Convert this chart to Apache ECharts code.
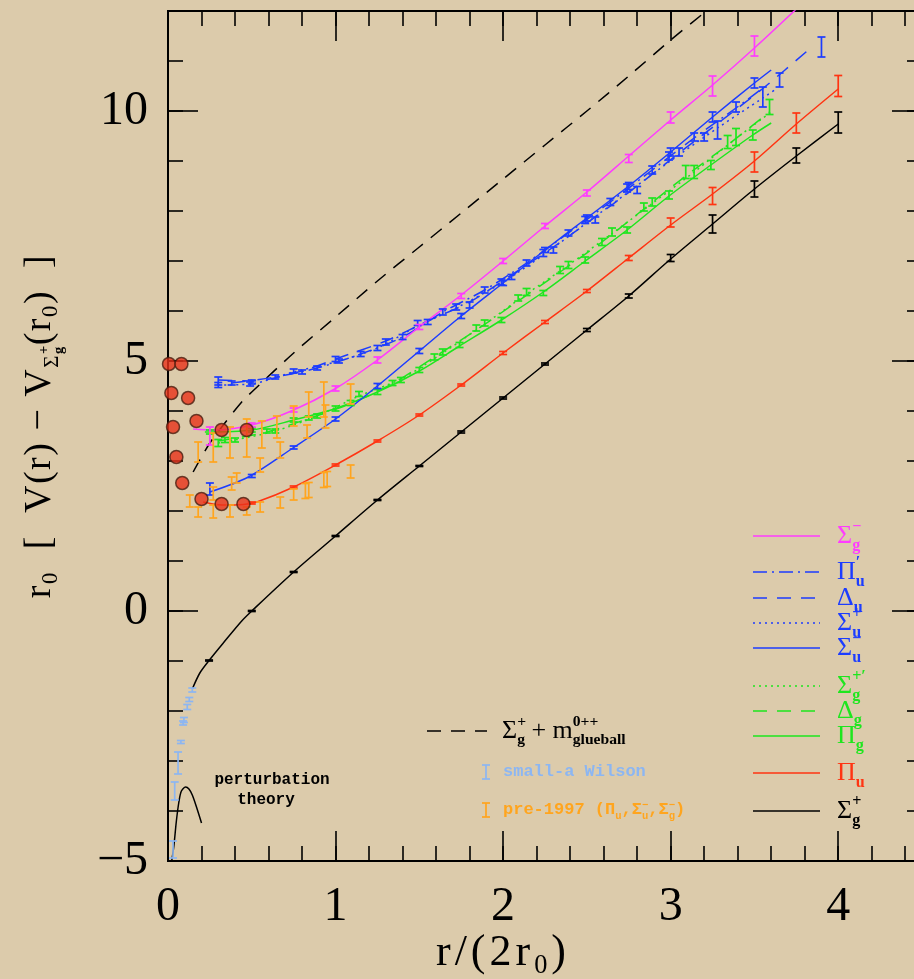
<!DOCTYPE html>
<html>
<head>
<meta charset="utf-8">
<script src="https://cdn.jsdelivr.net/npm/echarts@6/dist/echarts.min.js"></script>
<style>
  html, body { margin: 0; padding: 0; background: #dccbab; overflow: hidden; }
  /* the frame's right edge sits just past the visible window */
  #chart { width: 930px; height: 979px; }
</style>
</head>
<body>
<div id="chart"></div>
<script>
// ---------------- tick labels ----------------
const xTickLabels = ['0', '1', '2', '3', '4'];
const yTickLabels = ['\u22125', '0', '5', '10'];

// ---------------- Σg+ ground state (black) ----------------
const sigmaGPlus = [[0.145,-1.56],[0.19,-1.24],[0.245,-0.99],[0.33,-0.64],[0.44,-0.2],[0.5,0.0],[0.75,0.78],[1.0,1.5],[1.25,2.22],[1.5,2.9],[1.75,3.58],[2.0,4.26],[2.25,4.94],[2.5,5.62],[2.75,6.3],[3.0,7.04],[3.25,7.74],[3.5,8.44],[3.75,9.1],[4.0,9.74]];
const sigmaGPlusErr = [[0.245,-0.99,0.01],[0.5,0.0,0.01],[0.75,0.78,0.01],[1.0,1.5,0.01],[1.25,2.22,0.01],[1.5,2.9,0.01],[1.75,3.58,0.02],[2.0,4.26,0.02],[2.25,4.94,0.02],[2.5,5.62,0.03],[2.75,6.3,0.04],[3.0,7.06,0.07],[3.25,7.74,0.18],[3.5,8.44,0.16],[3.75,9.11,0.15],[4.0,9.77,0.21]];

// ---------------- Πu (red) ----------------
const piU = [[0.21,2.18],[0.32,2.12],[0.45,2.13],[0.53,2.18],[0.75,2.48],[1.0,2.92],[1.25,3.4],[1.5,3.92],[1.75,4.52],[2.0,5.16],[2.25,5.78],[2.5,6.4],[2.75,7.06],[3.0,7.72],[3.25,8.34],[3.5,9.0],[3.75,9.74],[4.0,10.44]];
const piUErr = [[0.5,2.16,0.02],[0.75,2.48,0.02],[1.0,2.92,0.02],[1.25,3.4,0.02],[1.5,3.92,0.02],[1.75,4.52,0.02],[2.0,5.16,0.03],[2.25,5.78,0.03],[2.5,6.4,0.03],[2.75,7.06,0.05],[3.0,7.77,0.09],[3.25,8.3,0.17],[3.5,8.98,0.2],[3.75,9.76,0.2],[4.0,10.5,0.21]];

// ---------------- Σg- (magenta) ----------------
const sigmaGMinus = [[0.15,3.64],[0.27,3.62],[0.5,3.72],[0.75,4.02],[1.0,4.45],[1.25,5.02],[1.5,5.68],[1.75,6.32],[2.0,7.0],[2.25,7.7],[2.5,8.38],[2.75,9.1],[3.0,9.82],[3.25,10.52],[3.5,11.26],[3.75,12.04]];
const sigmaGMinusErr = [[0.25,3.5,0.18],[0.5,3.72,0.04],[0.75,4.02,0.04],[1.0,4.45,0.05],[1.25,5.02,0.06],[1.5,5.68,0.05],[1.75,6.3,0.05],[2.0,7.0,0.05],[2.25,7.7,0.05],[2.5,8.36,0.06],[2.75,9.05,0.08],[3.0,9.87,0.11],[3.25,10.5,0.2],[3.5,11.3,0.2]];

// ---------------- blue u-states ----------------
const sigmaUMinus = [[0.25,2.38],[0.48,2.68],[0.75,3.27],[1.0,3.84],[1.25,4.5],[1.5,5.2],[1.75,5.9],[2.0,6.56],[2.25,7.22],[2.5,7.86],[2.75,8.5],[3.0,9.18],[3.25,9.88],[3.5,10.56],[3.6,10.82]];
const sigmaUMinusErr = [[0.25,2.44,0.12],[0.5,2.7,0.03],[0.75,3.27,0.03],[1.0,3.84,0.04],[1.25,4.5,0.05],[1.5,5.2,0.05],[1.75,5.9,0.05],[2.0,6.56,0.05],[2.25,7.22,0.05],[2.5,7.86,0.06],[2.75,8.5,0.07],[3.0,9.18,0.08],[3.25,9.88,0.1],[3.5,10.56,0.1]];

const deltaU = [[0.3,4.62],[0.5,4.6],[0.8,4.8],[1.0,5.04],[1.3,5.4],[1.55,5.8],[1.8,6.18],[2.05,6.72],[2.3,7.28],[2.55,7.88],[2.8,8.5],[3.05,9.16],[3.3,9.8],[3.55,10.45],[3.85,11.3]];
const deltaUErr = [[0.3,4.6,0.08],[0.5,4.58,0.04],[0.8,4.78,0.04],[1.0,5.04,0.05],[1.3,5.38,0.06],[1.55,5.78,0.05],[1.8,6.12,0.06],[2.05,6.68,0.05],[2.3,7.22,0.06],[2.55,7.82,0.06],[2.8,8.42,0.07],[3.05,9.18,0.08],[3.65,10.62,0.14],[3.9,11.28,0.2]];

const piUPrime = [[0.38,4.56],[0.64,4.68],[0.89,4.86],[1.15,5.14],[1.4,5.48],[1.64,5.98],[1.89,6.42],[2.14,6.96],[2.39,7.56],[2.64,8.18],[2.89,8.82],[3.14,9.46],[3.39,10.06],[3.55,10.46]];
const piUPrimeErr = [[0.38,4.56,0.04],[0.64,4.68,0.04],[0.89,4.86,0.04],[1.15,5.14,0.05],[1.4,5.48,0.05],[1.64,5.98,0.06],[1.89,6.42,0.06],[2.14,6.96,0.06],[2.39,7.56,0.06],[2.64,8.18,0.07],[2.89,8.82,0.08],[3.14,9.48,0.08],[3.39,10.08,0.1]];

const sigmaUPlus = [[0.3,4.52],[0.49,4.54],[0.75,4.78],[1.02,5.0],[1.25,5.26],[1.49,5.7],[1.72,6.06],[1.99,6.56],[2.24,7.12],[2.49,7.74],[2.74,8.36],[2.99,8.98],[3.28,9.66],[3.55,10.26],[3.62,10.42]];
const sigmaUPlusErr = [[0.3,4.52,0.05],[0.49,4.54,0.04],[0.75,4.8,0.04],[1.02,5.0,0.04],[1.25,5.26,0.05],[1.49,5.76,0.05],[1.72,6.08,0.06],[1.99,6.58,0.06],[2.24,7.16,0.07],[2.49,7.82,0.07],[2.74,8.46,0.08],[2.99,9.1,0.08],[3.2,9.48,0.08],[3.28,9.62,0.18],[3.55,10.28,0.2]];

// ---------------- green g-states ----------------
const piG = [[0.22,3.58],[0.5,3.62],[0.75,3.82],[1.0,4.05],[1.25,4.38],[1.5,4.8],[1.74,5.3],[1.99,5.82],[2.24,6.38],[2.49,7.0],[2.74,7.62],[2.99,8.3],[3.24,8.92],[3.49,9.52],[3.6,9.76]];
const piGErr = [[0.25,3.58,0.04],[0.5,3.62,0.04],[0.75,3.82,0.04],[1.0,4.05,0.05],[1.25,4.38,0.05],[1.5,4.82,0.05],[1.74,5.32,0.05],[1.99,5.82,0.05],[2.24,6.36,0.05],[2.49,7.02,0.06],[2.74,7.62,0.06],[2.99,8.32,0.08],[3.24,8.92,0.09],[3.49,9.52,0.1]];

const deltaG = [[0.3,3.4],[0.59,3.58],[0.84,3.85],[1.09,4.15],[1.34,4.55],[1.59,5.08],[1.84,5.62],[2.09,6.2],[2.34,6.78],[2.59,7.38],[2.84,8.04],[3.09,8.7],[3.34,9.32],[3.59,9.98]];
const deltaGErr = [[0.34,3.42,0.05],[0.59,3.6,0.04],[0.84,3.86,0.04],[1.09,4.16,0.05],[1.34,4.56,0.05],[1.59,5.08,0.06],[1.84,5.66,0.06],[2.09,6.26,0.06],[2.34,6.82,0.07],[2.59,7.38,0.07],[2.84,8.08,0.08],[3.09,8.78,0.13],[3.34,9.38,0.13],[3.59,10.08,0.15]];

const sigmaGPlusPrime = [[0.3,3.36],[0.4,3.42],[0.64,3.6],[0.89,3.9],[1.14,4.3],[1.39,4.64],[1.64,5.16],[1.89,5.74],[2.14,6.34],[2.39,6.92],[2.65,7.55],[2.89,8.15],[3.14,8.78],[3.39,9.45],[3.6,9.98]];
const sigmaGPlusPrimeErr = [[0.3,3.36,0.07],[0.4,3.42,0.04],[0.64,3.6,0.04],[0.89,3.9,0.04],[1.14,4.34,0.05],[1.39,4.62,0.05],[1.64,5.18,0.06],[1.89,5.76,0.06],[2.14,6.38,0.07],[2.39,6.92,0.07],[2.65,7.58,0.08],[2.89,8.18,0.08],[3.14,8.78,0.13],[3.39,9.48,0.17]];

// ---------------- Σg+ + glueball threshold (black dashed) ----------------
const glueballLine = [[0.15,2.78],[0.2,3.08],[0.25,3.36],[0.33,3.72],[0.44,4.18],[0.5,4.38],[0.75,5.16],[1.0,5.88],[1.25,6.6],[1.5,7.28],[1.75,7.96],[2.0,8.64],[2.25,9.32],[2.5,10.0],[2.75,10.7],[3.0,11.42],[3.25,12.1]];

// ---------------- perturbation theory (black) ----------------
const ptCurve = [[0.022,-5.0],[0.035,-4.7],[0.05,-4.2],[0.065,-3.82],[0.08,-3.6],[0.105,-3.52],[0.125,-3.56],[0.145,-3.68],[0.17,-3.92],[0.2,-4.24]];

// ---------------- small-a Wilson points (light blue) ----------------
const smallAWilson = [[0.145,-1.58,0.04],[0.127,-1.77,0.04],[0.115,-1.92,0.05],[0.095,-2.18,0.05],[0.09,-2.24,0.04],[0.077,-2.62,0.03],[0.06,-3.04,0.22],[0.04,-3.6,0.18],[0.03,-4.77,0.17]];

// ---------------- pre-1997 points (orange) ----------------
const pre1997PiU = [[0.13,2.2,0.12],[0.18,1.98,0.1],[0.27,1.99,0.13],[0.37,2.0,0.12],[0.47,2.0,0.08],[0.55,2.08,0.1],[0.67,2.17,0.11],[0.75,2.33,0.11],[0.82,2.4,0.15],[0.84,2.42,0.15],[0.93,2.62,0.15],[0.95,2.64,0.15],[1.09,2.79,0.13]];
const pre1997SigmaU = [[0.27,2.35,0.13],[0.38,2.55,0.13],[0.41,2.66,0.1],[0.55,2.92,0.14],[0.67,3.22,0.16],[0.83,3.59,0.13],[0.94,3.89,0.23]];
const pre1997SigmaG = [[0.18,3.18,0.2],[0.27,3.27,0.29],[0.37,3.37,0.31],[0.47,3.46,0.38],[0.56,3.53,0.27],[0.65,3.68,0.22],[0.75,3.9,0.2],[0.84,4.13,0.25],[0.93,4.23,0.35],[1.09,4.34,0.2]];

// ---------------- red discs ----------------
const redDiscs = [[0.006,4.94],[0.08,4.94],[0.02,4.36],[0.12,4.26],[0.17,3.8],[0.03,3.68],[0.32,3.62],[0.47,3.62],[0.05,3.08],[0.085,2.56],[0.2,2.24],[0.32,2.14],[0.45,2.14]];

// ---------------- styling ----------------
const SERIF = '"Liberation Serif","DejaVu Serif",serif';
const MONO = '"Liberation Mono","DejaVu Sans Mono",monospace';
const COL = {
  black: '#000000', mag: '#ff3cff', blue: '#1c3cff', green: '#1ee61e',
  red: '#ff3412', orange: '#ffa51e', sky: '#8cb6f2'
};
const DASH = [14, 10], DOT = [2, 4], DASHDOT = [14, 5, 2, 5];

function curve(data, color, dash, width) {
  return {
    type: 'line', data, showSymbol: false, symbol: 'none', smooth: 0.3,
    clip: true, silent: true, z: 2,
    lineStyle: { color, width: width || 1.5, type: dash || 'solid' }
  };
}

function errorBars(data, color, capHalf) {
  const w = capHalf || 4;
  return {
    type: 'custom', data, silent: true, z: 3, clip: true,
    encode: { x: 0, y: 1 },
    renderItem(params, api) {
      const x = api.value(0), y = api.value(1), e = api.value(2);
      const hi = api.coord([x, y + e]);
      const lo = api.coord([x, y - e]);
      const st = { stroke: color, lineWidth: 1.7 };
      return {
        type: 'group',
        children: [
          { type: 'line', shape: { x1: hi[0], y1: hi[1], x2: lo[0], y2: lo[1] }, style: st },
          { type: 'line', shape: { x1: hi[0] - w, y1: hi[1], x2: hi[0] + w, y2: hi[1] }, style: st },
          { type: 'line', shape: { x1: lo[0] - w, y1: lo[1], x2: lo[0] + w, y2: lo[1] }, style: st }
        ]
      };
    }
  };
}

// ---------------- axes ----------------
function xAx(pos, interval, len, labels) {
  return {
    type: 'value', min: 0, max: 4.5, interval, position: pos,
    axisLine: { show: true, onZero: false, lineStyle: { color: '#000', width: 2 } },
    axisTick: { show: true, inside: true, length: len, lineStyle: { color: '#000', width: 1.6 } },
    axisLabel: labels ? {
      show: true, margin: 22, color: '#000', fontFamily: SERIF, fontSize: 48,
      showMaxLabel: false,
      formatter: v => (Math.abs(v - Math.round(v)) < 1e-6 && xTickLabels[Math.round(v)]) || ''
    } : { show: false },
    splitLine: { show: false }
  };
}
function yAx(pos, interval, len, labels) {
  return {
    type: 'value', min: -5, max: 12, interval, position: pos,
    axisLine: { show: true, onZero: false, lineStyle: { color: '#000', width: 2 } },
    axisTick: { show: true, inside: true, length: len, lineStyle: { color: '#000', width: 1.6 } },
    axisLabel: labels ? {
      show: true, margin: 20, color: '#000', fontFamily: SERIF, fontSize: 48,
      showMaxLabel: false,
      formatter: v => {
        const i = Math.round((v + 5) / 5);
        return (Math.abs((v + 5) / 5 - i) < 1e-6 && yTickLabels[i]) || '';
      }
    } : { show: false },
    splitLine: { show: false }
  };
}

// ---------------- text runs with sub/superscripts ----------------
const mctx = document.createElement('canvas').getContext('2d');
function fontStr(size, weight, family) { return weight + ' ' + size + 'px ' + family; }
function widthOf(t, size, weight, family) { mctx.font = fontStr(size, weight, family); return mctx.measureText(t).width; }
function textEl(t, x, y, size, color, weight, family) {
  return {
    type: 'text', x, y, silent: true,
    style: {
      text: t, fill: color, font: fontStr(size, weight, family),
      align: 'left', verticalAlign: 'middle', textAlign: 'left', textVerticalAlign: 'middle'
    }
  };
}
// piece: [text, scale, shift (em of base size), advance, weight]
function runGroup(pieces, opt) {
  const family = opt.family || SERIF, baseW = opt.weight || 'normal';
  const gap = opt.spacing || 0;
  let x = 0; const kids = [];
  pieces.forEach(p => {
    const t = p[0], k = p[1] == null ? 1 : p[1], dy = p[2] || 0;
    const adv = p[3] == null ? true : p[3], w = p[4] || baseW;
    const s = opt.size * k;
    // optional letter spacing: place each glyph separately
    const glyphs = gap ? Array.from(t) : [t];
    let gx = x;
    glyphs.forEach(g => {
      kids.push(textEl(g, gx, dy * opt.size, s, opt.color, w, family));
      gx += widthOf(g, s, w, family) + gap;
    });
    if (adv) x = gx;
  });
  if (opt.anchor === 'center') kids.forEach(c => { c.x -= x / 2; });
  return { type: 'group', x: opt.x, y: opt.y, rotation: opt.rotation || 0, silent: true, children: kids };
}

// ---------------- right-hand legend ----------------
const legendRows = [
  { y: 536, color: COL.mag,   dash: 'solid', main: 'Σ', sup: '−', sub: 'g' },
  { y: 572, color: COL.blue,  dash: DASHDOT, main: 'Π', sup: '′', sub: 'u' },
  { y: 598, color: COL.blue,  dash: DASH,    main: 'Δ', sup: '',  sub: 'u' },
  { y: 623, color: COL.blue,  dash: DOT,     main: 'Σ', sup: '+', sub: 'u' },
  { y: 648, color: COL.blue,  dash: 'solid', main: 'Σ', sup: '−', sub: 'u' },
  { y: 686, color: COL.green, dash: DOT,     main: 'Σ', sup: '+′', sub: 'g' },
  { y: 711, color: COL.green, dash: DASH,    main: 'Δ', sup: '',  sub: 'g' },
  { y: 736, color: COL.green, dash: 'solid', main: 'Π', sup: '',  sub: 'g' },
  { y: 773, color: COL.red,   dash: 'solid', main: 'Π', sup: '',  sub: 'u' },
  { y: 811, color: COL.black, dash: 'solid', main: 'Σ', sup: '+', sub: 'g' }
];

const graphics = [];
legendRows.forEach(r => {
  graphics.push({
    type: 'line', silent: true,
    shape: { x1: 753, y1: r.y, x2: 820, y2: r.y },
    style: { stroke: r.color, lineWidth: 1.5, lineDash: r.dash === 'solid' ? null : r.dash }
  });
  const pcs = [[r.main, 1, 0]];
  if (r.sup) pcs.push([r.sup, 0.62, -0.36, false, 'bold']);
  pcs.push([r.sub, 0.62, 0.36, true, 'bold']);
  graphics.push(runGroup(pcs, { x: 837, y: r.y, size: 26, color: r.color }));
});

// ---------------- lower legend ----------------
graphics.push({
  type: 'line', silent: true, shape: { x1: 427, y1: 731, x2: 487, y2: 731 },
  style: { stroke: '#000', lineWidth: 1.5, lineDash: DASH }
});
graphics.push(runGroup([
  ['Σ', 1, 0], ['+', 0.6, -0.36, false, 'bold'], ['g', 0.6, 0.36, true, 'bold'],
  [' + m', 1, 0], ['0++', 0.6, -0.34, false, 'bold'], ['glueball', 0.6, 0.36, true, 'bold']
], { x: 502, y: 731, size: 26, color: '#000' }));

function markerI(x, y1, y2, color) {
  const st = { stroke: color, lineWidth: 1.7 };
  graphics.push({ type: 'line', silent: true, shape: { x1: x, y1, x2: x, y2 }, style: st });
  graphics.push({ type: 'line', silent: true, shape: { x1: x - 4, y1, x2: x + 4, y2: y1 }, style: st });
  graphics.push({ type: 'line', silent: true, shape: { x1: x - 4, y1: y2, x2: x + 4, y2 }, style: st });
}
markerI(486, 765, 779, COL.sky);
markerI(486, 803, 817, COL.orange);
graphics.push(runGroup([['small-a Wilson']], { x: 503, y: 772, size: 17, color: COL.sky, family: MONO, weight: 'bold' }));
graphics.push(runGroup([
  ['pre-1997 (Π'], ['u', 0.62, 0.4], [',Σ'], ['−', 0.62, -0.3, false], ['u', 0.62, 0.4], [',Σ'],
  ['−', 0.62, -0.3, false], ['g', 0.62, 0.4], [')']
], { x: 503, y: 810, size: 17, color: COL.orange, family: MONO, weight: 'bold' }));

// ---------------- annotation ----------------
graphics.push(runGroup([['perturbation']], { x: 272, y: 780, size: 16, color: '#000', family: MONO, weight: 'bold', anchor: 'center' }));
graphics.push(runGroup([['theory']], { x: 266, y: 800, size: 16, color: '#000', family: MONO, weight: 'bold', anchor: 'center' }));

// ---------------- axis titles ----------------
graphics.push(runGroup([
  ['r'], ['0', 0.6, 0.3], ['  [  V(r) − V'], ['Σ', 0.55, 0.32], ['+', 0.38, 0.12, false, 'bold'],
  ['g', 0.38, 0.5, true, 'bold'], ['(r'], ['0', 0.6, 0.3], [')  ]']
], { x: 40, y: 426, size: 38, color: '#000', anchor: 'center', rotation: Math.PI / 2, spacing: 1.5 }));
graphics.push(runGroup([['r/(2r'], ['0', 0.6, 0.3], [')']],
  { x: 503, y: 953, size: 44, color: '#000', anchor: 'center', spacing: 4 }));

// ---------------- chart ----------------
const chart = echarts.init(document.getElementById('chart'), null, { renderer: 'canvas' });
chart.setOption({
  animation: false,
  backgroundColor: '#dccbab',
  grid: { left: 168, right: 8, top: 11, bottom: 118, containLabel: false },
  xAxis: [
    xAx('bottom', 1, 30, true),
    xAx('bottom', 0.2, 15, false),
    xAx('top', 1, 30, false),
    xAx('top', 0.2, 15, false)
  ],
  yAxis: [
    yAx('left', 5, 30, true),
    yAx('left', 1, 15, false),
    yAx('right', 5, 30, false),
    yAx('right', 1, 15, false)
  ],
  series: [
    curve(glueballLine, COL.black, DASH),
    curve(ptCurve, COL.black),
    curve(sigmaGPlus, COL.black),
    curve(piU, COL.red),
    curve(piG, COL.green),
    curve(deltaG, COL.green, DASH),
    curve(sigmaGPlusPrime, COL.green, DOT),
    curve(sigmaUMinus, COL.blue),
    curve(sigmaUPlus, COL.blue, DOT),
    curve(deltaU, COL.blue, DASH),
    curve(piUPrime, COL.blue, DASHDOT),
    curve(sigmaGMinus, COL.mag),
    errorBars(sigmaGPlusErr, COL.black),
    errorBars(piUErr, COL.red),
    errorBars(piGErr, COL.green),
    errorBars(deltaGErr, COL.green),
    errorBars(sigmaGPlusPrimeErr, COL.green),
    errorBars(sigmaUMinusErr, COL.blue),
    errorBars(sigmaUPlusErr, COL.blue),
    errorBars(deltaUErr, COL.blue),
    errorBars(piUPrimeErr, COL.blue),
    errorBars(sigmaGMinusErr, COL.mag),
    errorBars(smallAWilson, COL.sky),
    errorBars(pre1997PiU, COL.orange),
    errorBars(pre1997SigmaU, COL.orange),
    errorBars(pre1997SigmaG, COL.orange),
    {
      type: 'scatter', data: redDiscs, symbol: 'circle', symbolSize: 13, clip: false, silent: true, z: 5,
      itemStyle: { color: '#e8321a', borderColor: '#4a1e10', borderWidth: 1.5 }
    }
  ],
  graphic: graphics
});
</script>
</body>
</html>
